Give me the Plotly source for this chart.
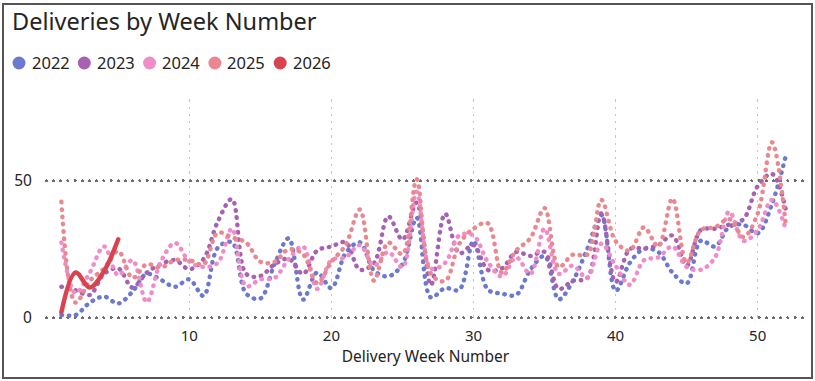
import plotly.graph_objects as go

# ---------------- data ----------------
weeks = list(range(1, 53))
years = ["2022", "2023", "2024", "2025", "2026"]
colors = ["#6B7ACC", "#A661B2", "#F08CC8", "#E9888E", "#D8434F"]

d2022 = [1, 1, 5.5, 7.7, 5.2, 9.5, 16, 13.8, 11.3, 14,
         8, 25.5, 27.5, 8.8, 7, 19.5, 29, 6.6, 16.5, 10.8,
         23.5, 27.5, 17.2, 15.1, 19.5, 36.5, 7.4, 10.8, 10.2, 28,
         10.3, 8.8, 8.3, 17.5, 22.5, 6.7, 13.5, 25, 37.5, 9.8,
         20, 25.1, 24, 16.5, 12.5, 28.1, 26, 33.2, 33.9, 30.8,
         41.5, 59.5]
d2023 = [11.3, 10, 8.3, 16, 18, 11, 16.4, 19.5, 21, 17.7,
         21.4, 35, 43.3, 16, 15.2, 19.5, 21.5, 16, 24.5, 26,
         27.5, 17.5, 20, 37, 28.5, 42, 11.9, 38, 23.5, 26.5,
         17.5, 18, 24, 22.5, 24, 10.5, 13.5, 14.4, 38, 13,
         25, 25.3, 26.5, 30, 19, 32, 32.5, 34, 36, 48,
         52.5, 39]
d2024 = [27.5, 9, 16.5, 26, 15.5, 21, 5.7, 20.5, 27.3, 20.5,
         18.5, 20, 32.5, 11.5, 14, 14.5, 21.5, 26, 10.5, 21,
         22, 26.5, 19, 24, 18.4, 46, 18, 20, 30, 30,
         20.5, 15, 22, 16, 32.5, 16, 19, 14.5, 27, 19,
         12, 21, 22, 26, 18.5, 17.5, 22, 38.7, 28, 32,
         43, 32]
d2025 = [42.3, 5.5, 13.5, 18, 24.3, 14.5, 19.5, 18.3, 21, 21,
         19.5, 31, 29.3, 27.4, 20.4, 20.4, 25, 23.2, 12.7, 20.4,
         26.5, 39.5, 13.5, 27.4, 23.2, 50.5, 16, 13.4, 27, 32.5,
         34.5, 16.5, 24.5, 29, 40, 18.5, 23, 23, 43, 28,
         24.5, 33, 26, 43.5, 20, 32, 33, 36, 29.5, 38,
         64, 33]
d2026 = [2, 16.5, 11, 17, 28.6]

series = [d2022, d2023, d2024, d2025, d2026]

x_ticks = [10, 20, 30, 40, 50]
y_ticks = [0, 50]
title_text = "Deliveries by Week Number"
x_title = "Delivery Week Number"

# ---------------- layout helpers ----------------
W, H = 815, 381
L, R, T, B = 46, 10, 100, 61
pw, ph = W - L - R, H - T - B
FONT = "Noto Sans"


def px(x):
    return (x - L) / pw


def py(y):
    return (H - B - y) / ph


fig = go.Figure()
for name, vals, col in zip(years, series, colors):
    if name == "2026":
        line = dict(color=col, width=4.5, shape="spline")
    else:
        line = dict(color=col, width=4.4, shape="spline", dash="0.5px,6.8px")
    fig.add_trace(go.Scatter(x=weeks[:len(vals)], y=vals, mode="lines",
                             line=line, name=name, showlegend=False,
                             hoverinfo="skip"))

shapes = []
annotations = []
# frame
shapes.append(dict(type="rect", xref="paper", yref="paper",
                   x0=px(3), x1=px(812), y0=py(378), y1=py(4),
                   line=dict(color="#555555", width=2), layer="above"))
# legend
for i, (name, col) in enumerate(zip(years, colors)):
    cx = 19 + 65.3 * i
    cy = 63
    r = 6.5
    shapes.append(dict(type="circle", xref="paper", yref="paper",
                       x0=px(cx - r), x1=px(cx + r), y0=py(cy + r), y1=py(cy - r),
                       fillcolor=col, line=dict(width=0)))
    annotations.append(dict(text=name, xref="paper", yref="paper",
                            x=px(cx + 10.5), y=py(cy), xanchor="left", yanchor="middle",
                            showarrow=False,
                            font=dict(family=FONT, size=16.5, color="#252423")))
# title
annotations.append(dict(text=title_text, xref="paper", yref="paper",
                        x=px(10), y=py(21), xanchor="left", yanchor="middle",
                        showarrow=False,
                        font=dict(family=FONT, size=23.5, color="#252423")))

fig.update_layout(
    width=W, height=H,
    margin=dict(l=L, r=R, t=T, b=B, pad=0),
    paper_bgcolor="white", plot_bgcolor="white",
    shapes=shapes, annotations=annotations,
    font=dict(family=FONT, color="#252423"),
    hovermode=False,
    xaxis=dict(range=[-0.084, 53.33], tickvals=x_ticks,
               showgrid=True, gridcolor="#C4C4C4", gridwidth=1.2,
               griddash="1px,6.2px", zeroline=False, showline=False,
               ticks="outside", ticklen=2, tickcolor="rgba(0,0,0,0)",
               tickfont=dict(size=15, color="#252423"),
               title=dict(text=x_title, font=dict(size=15.5, color="#252423"),
                          standoff=6)),
    yaxis=dict(range=[-0.84, 79.45], tickvals=y_ticks,
               showgrid=True, gridcolor="#6E6E6E", gridwidth=2.6,
               griddash="0.5px,6.7px", zeroline=False, showline=False,
               ticks="outside", ticklen=10, tickcolor="rgba(0,0,0,0)",
               tickfont=dict(size=15.5, color="#252423")),
)

post = ("var s=document.createElement('style');"
        "s.textContent='html,body{margin:0;padding:0;}"
        ".js-line,.xgrid,.ygrid{stroke-linecap:round;}';"
        "document.head.appendChild(s);")
fig.write_html("out.html", post_script=post,
               config={"displayModeBar": False, "staticPlot": True})
